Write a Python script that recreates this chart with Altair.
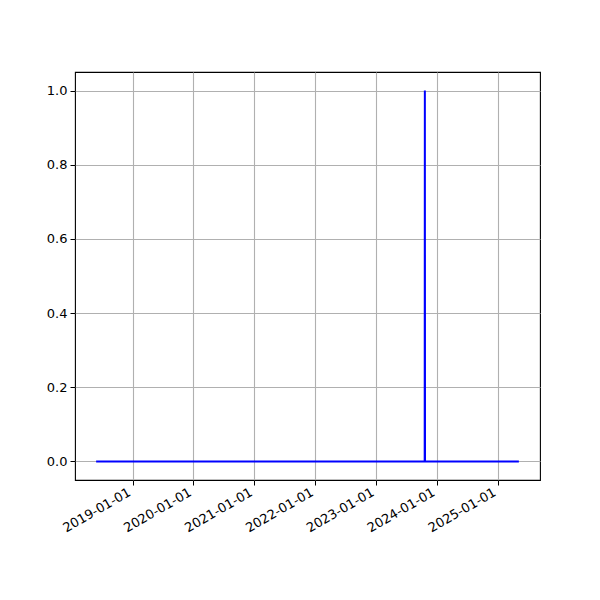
import altair as alt
import pandas as pd

dates = ["2018-05-27", "2023-10-19", "2023-10-20", "2023-10-21", "2025-05-06"]
values = [0, 0, 1, 0, 0]
tick_years = [2019, 2020, 2021, 2022, 2023, 2024, 2025]
y_ticks = [0.0, 0.2, 0.4, 0.6, 0.8, 1.0]

df = pd.DataFrame({"date": dates, "value": values})

d = pd.to_datetime(df["date"])
span = d.max() - d.min()
dmin = d.min() - span * 0.05
dmax = d.max() + span * 0.05

def dt(ts):
    return alt.DateTime(year=ts.year, month=ts.month, date=ts.day, hours=ts.hour, utc=True)

font = "DejaVu Sans"

chart = alt.Chart(df).mark_line(color="#0000ff", strokeWidth=2, interpolate="linear").encode(
    x=alt.X("date:T", title=None,
            scale=alt.Scale(type="utc", domain=[dt(dmin), dt(dmax)], nice=False),
            axis=alt.Axis(values=[alt.DateTime(year=y, month=1, date=1, utc=True) for y in tick_years],
                          labelExpr="utcFormat(datum.value, '%Y-%m-%d')",
                          labelAngle=-30, labelAlign="right",
                          labelBaseline="bottom", labelPadding=12, labelFontSize=13, labelFont=font,
                          labelColor="black", tickColor="black", tickSize=5, domain=False,
                          grid=True, gridColor="#b0b0b0", gridWidth=1.1, labelOverlap=False)),
    y=alt.Y("value:Q", title=None,
            scale=alt.Scale(domain=[-0.05, 1.05], nice=False, zero=False),
            axis=alt.Axis(values=y_ticks, format=".1f", labelFontSize=13, labelFont=font,
                          labelColor="black", tickColor="black", tickSize=5, domain=False,
                          grid=True, gridColor="#b0b0b0", gridWidth=1.1, labelPadding=3)),
).properties(
    width=465, height=408,
    background="white",
    autosize=alt.AutoSizeParams(type="none"),
    padding={"left": 67, "top": 64, "right": 40, "bottom": 100},
).configure_view(stroke="black", strokeWidth=1.1)

chart.save("out.html", embed_options={"renderer": "svg", "actions": False})
